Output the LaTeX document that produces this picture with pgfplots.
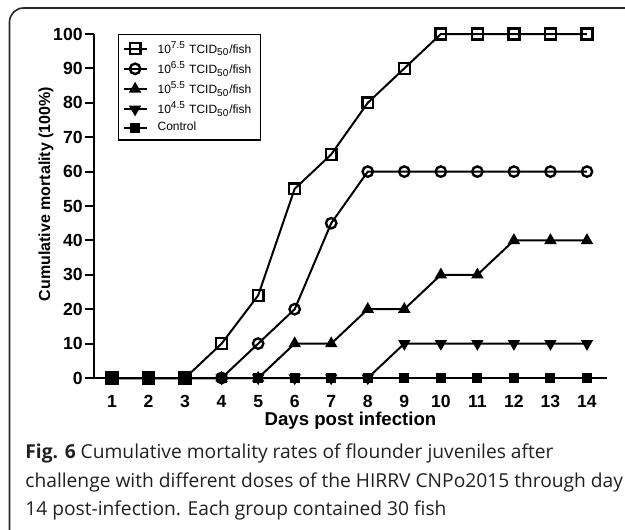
\documentclass[border=0pt]{standalone}
\usepackage{fontspec}
\setmainfont{Liberation Sans}
\newfontfamily\capfont{Open Sans}
\usepackage{pgfplots}
\pgfplotsset{compat=1.18}
\definecolor{captxt}{HTML}{231F20}
\pgfplotstableread{
x s1 s2 s3 s4 s5
1 0 0 0 0 0
2 0 0 0 0 0
3 0 0 0 0 0
4 10 0 0 0 0
5 24 10 0 0 0
6 55 20 10 0 0
7 65 45 10 0 0
8 80 60 20 0 0
9 90 60 20 10 0
10 100 60 30 10 0
11 100 60 30 10 0
12 100 60 40 10 0
13 100 60 40 10 0
14 100 60 40 10 0
}\mortality
\begin{document}
\begin{tikzpicture}
\useasboundingbox (0,0) rectangle (312.5pt,-264.5pt);
\draw[line width=0.8pt, black!85, rounded corners=7pt] (4.75pt,-4pt) rectangle (330pt,-290pt);
\begin{axis}[
  at={(47pt,-189pt)}, anchor=south west,
  scale only axis, width=256.5pt, height=172pt,
  xmin=0.507, xmax=14.548, ymin=0, ymax=100,
  axis x line=bottom, axis y line=left,
  axis line style={-, line width=1pt},
  clip=false,
  xtick={1,...,14}, ytick={0,10,...,100},
  major tick length=4.5pt, tick align=outside,
  x tick style={draw=none},
  y tick style={line width=1pt, black},
  /pgf/number format/assume math mode=true,
  ticklabel style={font=\bfseries\fontsize{8.8}{10}\selectfont},
  yticklabel style={inner xsep=1pt},
  xticklabel style={yshift=-0.5pt},
  extra description/.code={
    \node[font=\bfseries\fontsize{9.3}{11}\selectfont] at (axis description cs:0.5,-0.125) {Days post infection};
    \node[rotate=90, font=\bfseries\fontsize{8}{10}\selectfont] at (axis description cs:-0.0936,0.535) {Cumulative mortality (100\%)};
  },
  every axis plot/.append style={line width=1pt, black},
  legend style={at={(axis description cs:0.0468,1)}, anchor=north west, draw=black, line width=0.6pt,
    font=\fontsize{6}{7}\selectfont, inner xsep=2pt, inner ysep=1.5pt, row sep=-1pt,
    nodes={inner xsep=2.5pt, inner ysep=1.8pt},
    /tikz/every odd column/.append style={column sep=2.5pt}},
  legend cell align=left,
  legend image code/.code={\draw[mark repeat=2,mark phase=2] plot coordinates {(0pt,0pt)(5.75pt,0pt)(11.5pt,0pt)};},
]
\addplot[mark=square, mark size=2.7pt, mark options={line width=1.2pt}] table[x=x,y=s1] {\mortality};
\addlegendentry{10\textsuperscript{7.5} TCID\textsubscript{50}/fish}
\addplot[mark=o, mark size=2.6pt, mark options={line width=1.2pt}] table[x=x,y=s2] {\mortality};
\addlegendentry{10\textsuperscript{6.5} TCID\textsubscript{50}/fish}
\addplot[mark=triangle*, mark size=2.8pt, mark options={line width=0.8pt}] table[x=x,y=s3] {\mortality};
\addlegendentry{10\textsuperscript{5.5} TCID\textsubscript{50}/fish}
\addplot[mark=triangle*, mark size=2.8pt, mark options={line width=0.8pt, rotate=180}] table[x=x,y=s4] {\mortality};
\addlegendentry{10\textsuperscript{4.5} TCID\textsubscript{50}/fish}
\addplot[mark=square*, mark size=2pt] table[x=x,y=s5] {\mortality};
\addlegendentry{Control}
\end{axis}
\begin{scope}[every node/.style={anchor=base west, inner sep=0pt, font=\capfont\fontsize{9.6}{12}\selectfont, text=captxt}]
\node at (12.5pt,-229pt) {\textbf{Fig. 6} Cumulative mortality rates of flounder juveniles after};
\node at (12.5pt,-243.5pt) {challenge with different doses of the HIRRV CNPo2015 through day};
\node at (12.5pt,-257.5pt) {14 post-infection. Each group contained 30 fish};
\end{scope}
\end{tikzpicture}
\end{document}
